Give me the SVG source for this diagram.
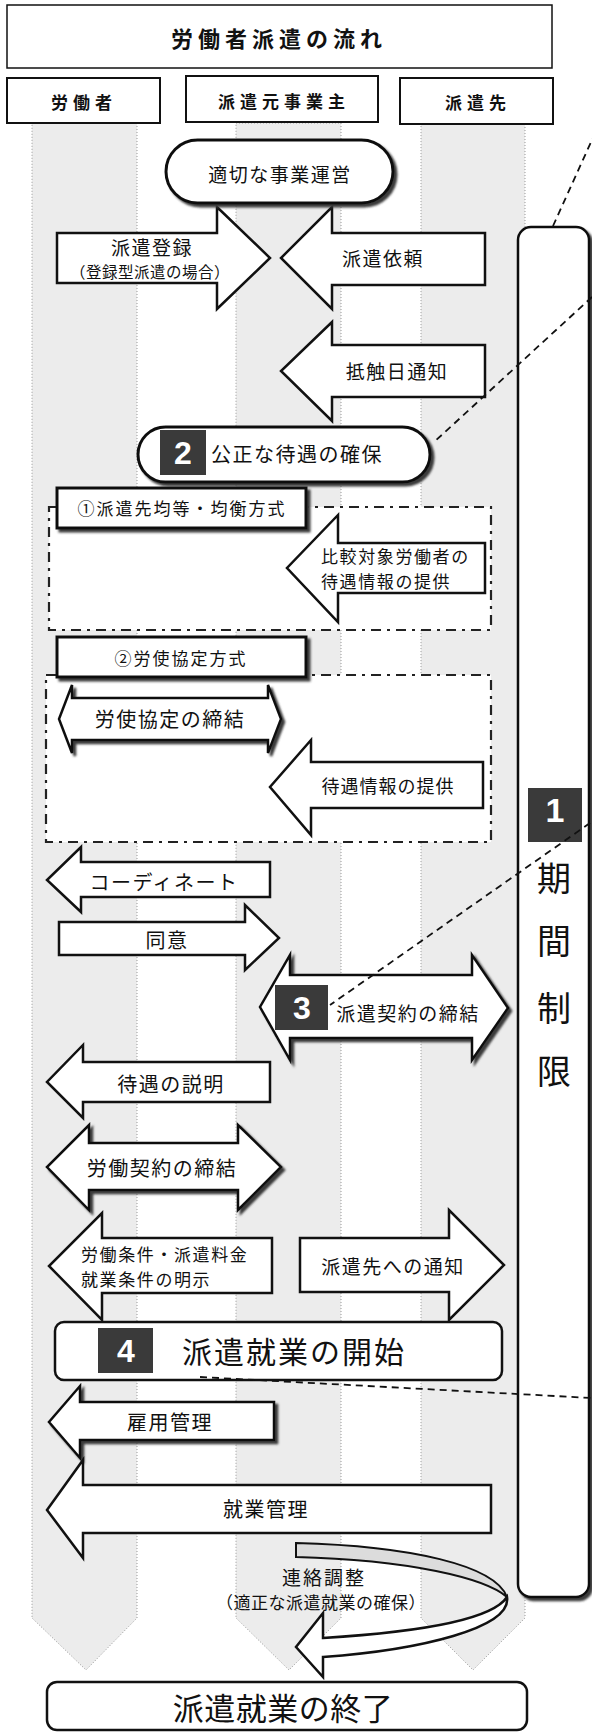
<svg xmlns="http://www.w3.org/2000/svg" width="592" height="1732" viewBox="0 0 592 1732">
<defs>
<filter id="sh" x="-10%" y="-10%" width="130%" height="150%">
<feGaussianBlur in="SourceAlpha" stdDeviation="1.3"/>
<feOffset dx="3" dy="3" result="o"/>
<feFlood flood-color="#3a3a3a"/>
<feComposite in2="o" operator="in"/>
<feMerge><feMergeNode/><feMergeNode in="SourceGraphic"/></feMerge>
</filter>
</defs>
<style>
text{font-family:"Noto Sans CJK JP","Noto Sans CJK SC",sans-serif;fill:#111;dominant-baseline:central}
.c{text-anchor:middle}
.b{font-weight:bold}
.box{fill:#fff;stroke:#111;stroke-width:2}
.arr{fill:#fff;stroke:#111;stroke-width:2.5;stroke-linejoin:miter}
.lane{fill:#ececec;stroke:#999;stroke-width:1;stroke-dasharray:1 2}
.frame{fill:#fff;stroke:#222;stroke-width:2.2;stroke-dasharray:10 6 3 6}
.lbl{fill:#fff;stroke:#111;stroke-width:3}
.num{fill:#3a3a3a}
.numt{font-family:"Liberation Sans",Arial,sans-serif;font-weight:bold;fill:#fff;text-anchor:middle;font-size:32px}
.dash{fill:none;stroke:#111;stroke-width:1.8;stroke-dasharray:7 5}
.f15{font-size:15.5px;letter-spacing:0.5px}
.f17{font-size:17px;letter-spacing:2px}
.f17b{font-size:17px;letter-spacing:1.6px}
.f18{font-size:18px;letter-spacing:1px}
.f19{font-size:19px;letter-spacing:1.5px}
.f20{font-size:20px;letter-spacing:1.5px}
</style>

<g id="lanes">
<polygon class="lane" points="32,123 137,123 137,1618 86,1670 32,1618"/>
<polygon class="lane" points="236,123 341,123 341,1618 289,1670 236,1618"/>
<polygon class="lane" points="421,123 525,123 525,1618 473,1670 421,1618"/>
</g>

<g id="title">
<rect x="7" y="5" width="545" height="63" fill="#fff" stroke="#111" stroke-width="1.5"/>
<text x="279" y="37" class="c b" style="font-size:22px;letter-spacing:5px">労働者派遣の流れ</text>
</g>

<g id="h-worker">
<rect class="box" x="7" y="78" width="153" height="45"/>
<text x="84" y="101" class="c b" style="font-size:17px;letter-spacing:5px">労働者</text>
</g>
<g id="h-agency">
<rect class="box" x="186" y="76" width="192" height="46"/>
<text x="284" y="100" class="c b" style="font-size:17px;letter-spacing:5px">派遣元事業主</text>
</g>
<g id="h-client">
<rect class="box" x="400" y="78" width="153" height="46"/>
<text x="478" y="101" class="c b" style="font-size:17px;letter-spacing:5px">派遣先</text>
</g>

<g id="period">
<rect x="518" y="227" width="71" height="1370" rx="13" fill="#fff" stroke="#111" stroke-width="2.5" filter="url(#sh)"/>
<rect class="num" x="528" y="788" width="54" height="54"/>
<text x="555" y="810" class="numt" style="font-size:34px">1</text>
<text x="554" y="876" class="c" style="font-size:34px">期</text>
<text x="554" y="939" class="c" style="font-size:34px">間</text>
<text x="554" y="1006" class="c" style="font-size:34px">制</text>
<text x="554" y="1069" class="c" style="font-size:34px">限</text>
</g>

<g id="a-register">
<path class="arr" d="M57,233 H217 V207 L270,258 L217,309 V283 H57 Z"/>
<text x="152" y="246" class="c f19">派遣登録</text>
<text x="150" y="271" class="c f15">（登録型派遣の場合）</text>
</g>
<g id="a-request">
<path class="arr" d="M485,233 H332 V207 L281,258 L332,309 V285 H485 Z"/>
<text x="383" y="257" class="c f19">派遣依頼</text>
</g>

<g id="n-proper">
<rect x="166" y="140" width="227" height="63" rx="31.5" fill="#fff" stroke="#111" stroke-width="3" filter="url(#sh)"/>
<text x="280" y="173" class="c f19">適切な事業運営</text>
</g>

<g id="a-conflict">
<path class="arr" d="M485,345 H332 V322 L281,371 L332,421 V397 H485 Z"/>
<text x="397" y="370" class="c f19">抵触日通知</text>
</g>

<g id="n-fair">
<rect x="138" y="427" width="292" height="55" rx="27.5" fill="#fff" stroke="#111" stroke-width="3" filter="url(#sh)"/>
<rect class="num" x="160" y="430" width="46" height="45"/>
<text x="183" y="453" class="numt">2</text>
<text x="297" y="453" class="c f20">公正な待遇の確保</text>
</g>

<g id="frame1">
<rect class="frame" x="49" y="507" width="442" height="123"/>
<rect class="lbl" x="57" y="488" width="249" height="40" filter="url(#sh)"/>
<text x="182" y="507" class="c f17">①派遣先均等・均衡方式</text>
</g>
<g id="a-compare">
<path class="arr" d="M485,543 H338 V515 L287,568 L338,622 V593 H485 Z"/>
<text x="321" y="555" class="f17b">比較対象労働者の</text>
<text x="321" y="580" class="f17b">待遇情報の提供</text>
</g>

<g id="frame2">
<rect class="frame" x="46" y="675" width="445" height="167"/>
<rect class="lbl" x="57" y="637" width="249" height="40" filter="url(#sh)"/>
<text x="181" y="657" class="c f17">②労使協定方式</text>
</g>
<g id="a-labor-agreement">
<path class="arr" d="M72,698 H268 V685 L281,719 L268,753 V740 H72 V753 L59,719 L72,685 Z" filter="url(#sh)"/>
<text x="170" y="718" class="c f20">労使協定の締結</text>
</g>
<g id="a-info">
<path class="arr" d="M483,762 H311 V740 L270,787 L311,835 V808 H483 Z"/>
<text x="388" y="785" class="c f18">待遇情報の提供</text>
</g>

<g id="a-coordinate">
<path class="arr" d="M270,862 H81 V847 L47,880 L81,912 V897 H270 Z"/>
<text x="164" y="881" class="c f20">コーディネート</text>
</g>
<g id="a-consent">
<path class="arr" d="M59,922 H245 V905 L279,938 L245,970 V955 H59 Z"/>
<text x="167" y="939" class="c f20">同意</text>
</g>
<g id="a-dispatch-contract">
<path class="arr" d="M290,975 H472 V955 L508,1008 L472,1060 V1038 H290 V1060 L260,1007 L290,955 Z" filter="url(#sh)"/>
<rect class="num" x="275" y="985" width="53" height="45"/>
<text x="302" y="1008" class="numt">3</text>
<text x="408" y="1012" class="c f19">派遣契約の締結</text>
</g>
<g id="a-explain">
<path class="arr" d="M270,1062 H83 V1045 L47,1082 L83,1118 V1102 H270 Z"/>
<text x="171" y="1083" class="c f20">待遇の説明</text>
</g>
<g id="a-labor-contract">
<path class="arr" d="M89,1143 H238 V1125 L281,1167 L238,1210 V1190 H89 V1210 L47,1167 L89,1125 Z" filter="url(#sh)"/>
<text x="162" y="1167" class="c f20">労働契約の締結</text>
</g>
<g id="a-conditions">
<path class="arr" d="M272,1238 H102 V1213 L49,1266 L102,1320 V1293 H272 Z"/>
<text x="81" y="1253" class="f17b">労働条件・派遣料金</text>
<text x="81" y="1278" class="f17b">就業条件の明示</text>
</g>
<g id="a-notify">
<path class="arr" d="M300,1238 H449 V1210 L504,1265 L449,1320 V1292 H300 Z"/>
<text x="393" y="1265" class="c f19">派遣先への通知</text>
</g>

<g id="n-start">
<rect x="55" y="1322" width="447" height="58" rx="9" fill="#fff" stroke="#111" stroke-width="2.5"/>
<rect class="num" x="98" y="1328" width="55" height="45"/>
<text x="126" y="1351" class="numt">4</text>
<text x="294" y="1350" class="c" style="font-size:30px;letter-spacing:2px">派遣就業の開始</text>
</g>

<g id="a-employment">
<path class="arr" d="M274,1402 H80 V1386 L49,1422 L80,1458 V1440 H274 Z" filter="url(#sh)"/>
<text x="170" y="1421" class="c f20">雇用管理</text>
</g>
<g id="a-work">
<path class="arr" d="M491,1485 H83 V1460 L47,1510 L83,1558 V1533 H491 Z"/>
<text x="266" y="1508" class="c f20">就業管理</text>
</g>

<g id="a-liaison">
<path d="M296,1543 C410,1546 495,1565 507,1597 C485,1578 410,1560 296,1557 Z" fill="#dcdcdc" stroke="#111" stroke-width="2"/>
<path class="arr" d="M507,1597 C512,1628 420,1650 323,1657 L323,1677 L296,1647 L323,1613 L323,1638 C420,1632 492,1620 507,1597 Z"/>
<text x="324" y="1576" class="c" style="font-size:19px;letter-spacing:2px">連絡調整</text>
<text x="321" y="1601" class="c" style="font-size:17px;letter-spacing:0.5px">（適正な派遣就業の確保）</text>
</g>

<g id="n-end">
<rect x="47" y="1682" width="480" height="48" rx="10" fill="#fff" stroke="#111" stroke-width="2.5"/>
<text x="283" y="1706" class="c" style="font-size:31px;letter-spacing:0.5px">派遣就業の終了</text>
</g>

<g id="connectors">
<line class="dash" x1="553" y1="226" x2="596" y2="131"/>
<line class="dash" x1="592" y1="297" x2="433" y2="443"/>
<line class="dash" x1="590" y1="823" x2="330" y2="1005"/>
<line class="dash" x1="200" y1="1377" x2="592" y2="1398"/>
</g>
</svg>
